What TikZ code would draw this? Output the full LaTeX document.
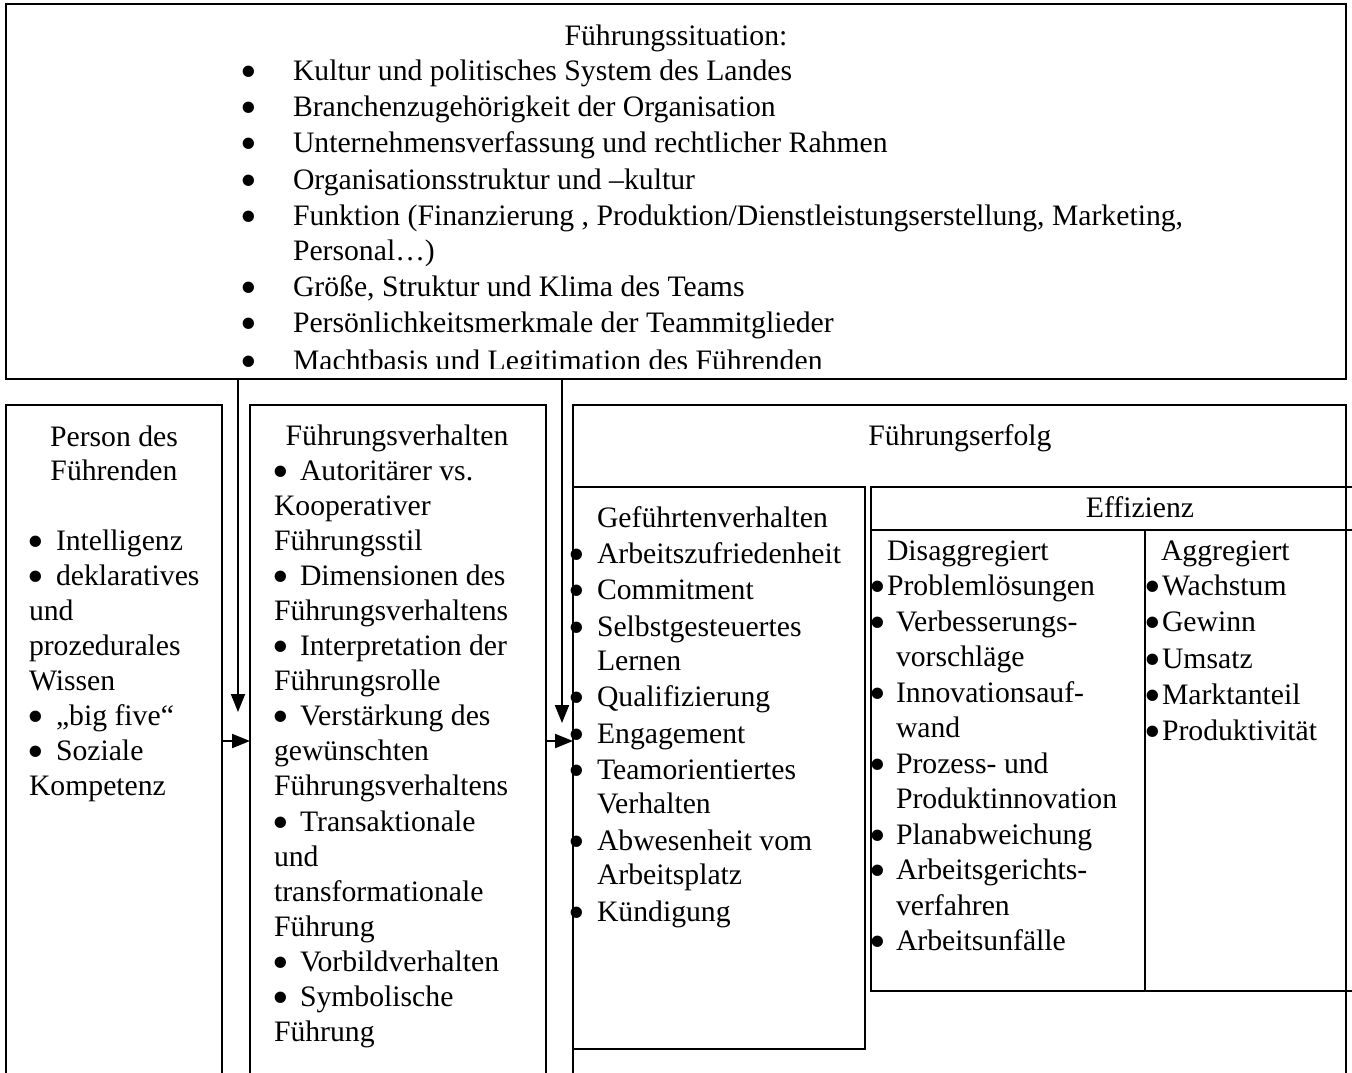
\documentclass[tikz,border=0pt]{standalone}
\usepackage{fontspec}
\usepackage{graphicx}
\setmainfont{Liberation Serif}
\usetikzlibrary{arrows.meta}
\newcommand{\bigb}{\smash{\raisebox{-7.3pt}{\scalebox{1.6}{\textbullet}}}}
\newcommand{\myb}[1]{\makebox[#1pt][l]{\hspace*{-2pt}\bigb}}
\newcommand{\myline}[4]{\node[txt] (#1) at (#2,#3) {#4};}
\begin{document}
\begin{tikzpicture}[x=1pt,y=-1pt,
  txt/.style={anchor=base west, inner sep=0pt, outer sep=0pt, font=\fontsize{29.7}{35}\selectfont},
  boxx/.style={draw=black, line width=2pt, inner sep=0pt, outer sep=0pt, fill=none},
  arr/.style={line width=2pt, -{Triangle[length=18pt,width=14pt]}},
  ln/.style={line width=2pt}]
\useasboundingbox (0,0) rectangle (1352,1072);
\fill[white] (0,0) rectangle (1352,1072);
\clip (0,0) rectangle (1352,1072);
% boxes
\node[boxx, minimum width=1340pt, minimum height=375pt] (sit) at (676,191.5) {};
\node[boxx, minimum width=216pt, minimum height=700pt] (pf) at (114,755) {};
\node[boxx, minimum width=296pt, minimum height=700pt] (fv) at (398,755) {};
\node[boxx, minimum width=773pt, minimum height=700pt] (fe) at (959.5,755) {};
\node[boxx, minimum width=292pt, minimum height=562pt] (gv) at (719,768) {};
\node[boxx, minimum width=494pt, minimum height=504pt] (eff) at (1118,739) {};
% Effizienz inner lines
\coordinate (ehl) at (871,530);
\coordinate (ehr) at (1365,530);
\coordinate (evt) at (1145,530);
\draw[ln] (ehl) -- (ehr);
\draw[ln] (evt) -- (evt |- eff.south);
% arrows
\coordinate (a1) at (238,712);
\coordinate (a2) at (562,723);
\coordinate (h1) at (0,741);
\draw[arr] (sit.south -| a1) -- (a1);
\draw[arr] (sit.south -| a2) -- (a2);
\draw[arr] (pf.east |- h1) -- (fv.west |- h1);
\draw[arr] (fv.east |- h1) -- (fe.west |- h1);
% top box text
\begin{scope}[yshift=-3pt]
\node[txt, anchor=base] (t0) at (676,42) {Führungssituation:};
\myline{t1}{242}{77}{\myb{51}Kultur und politisches System des Landes}
\myline{t2}{242}{113}{\myb{51}Branchenzugehörigkeit der Organisation}
\myline{t3}{242}{149}{\myb{51}Unternehmensverfassung und rechtlicher Rahmen}
\myline{t4}{242}{186}{\myb{51}Organisationsstruktur und –kultur}
\myline{t5}{242}{222}{\myb{51}Funktion (Finanzierung , Produktion/Dienstleistungserstellung, Marketing,}
\myline{t6}{293}{257}{Personal…)}
\myline{t7}{242}{293}{\myb{51}Größe, Struktur und Klima des Teams}
\myline{t8}{242}{329}{\myb{51}Persönlichkeitsmerkmale der Teammitglieder}
\begin{scope}
\clip (6,4) rectangle (1346,365);
\myline{t9}{242}{367}{\myb{51}Machtbasis und Legitimation des Führenden}
\end{scope}
\end{scope}
\begin{scope}[yshift=-2pt]
% Person des Fuehrenden
\node[txt, anchor=base] (p0) at (114,444) {Person des};
\node[txt, anchor=base] (p00) at (114,478) {Führenden};
\myline{p1}{29}{548}{\myb{27}Intelligenz}
\myline{p2}{29}{583}{\myb{27}deklaratives}
\myline{p3}{29}{618}{und}
\myline{p4}{29}{653}{prozedurales}
\myline{p5}{29}{688}{Wissen}
\myline{p6}{29}{723.5}{\myb{27}„big five“}
\myline{p7}{29}{758.5}{\myb{27}Soziale}
\myline{p8}{29}{793.5}{Kompetenz}
% Fuehrungsverhalten
\node[txt, anchor=base] (f0) at (397,443) {Führungsverhalten};
\myline{f1}{274}{478}{\myb{26}Autoritärer vs.}
\myline{f2}{274}{513}{Kooperativer}
\myline{f3}{274}{548}{Führungsstil}
\myline{f4}{274}{583}{\myb{26}Dimensionen des}
\myline{f5}{274}{618}{Führungsverhaltens}
\myline{f6}{274}{653.5}{\myb{26}Interpretation der}
\myline{f7}{274}{688.5}{Führungsrolle}
\myline{f8}{274}{723.5}{\myb{26}Verstärkung des}
\myline{f9}{274}{758.5}{gewünschten}
\myline{f10}{274}{793.5}{Führungsverhaltens}
\myline{f11}{274}{829}{\myb{26}Transaktionale}
\myline{f12}{274}{864}{und}
\myline{f13}{274}{899}{transformationale}
\myline{f14}{274}{934}{Führung}
\myline{f15}{274}{969}{\myb{26}Vorbildverhalten}
\myline{f16}{274}{1004}{\myb{26}Symbolische}
\myline{f17}{274}{1039}{Führung}
% Fuehrungserfolg
\node[txt, anchor=base] (e0) at (960,443) {Führungserfolg};
% Gefuehrtenverhalten
\myline{g0}{597}{525}{Geführtenverhalten}
\myline{g1}{597}{561}{Arbeitszufriedenheit}
\myline{g2}{597}{597}{Commitment}
\myline{g3}{597}{634}{Selbstgesteuertes}
\myline{g4}{597}{668}{Lernen}
\myline{g5}{597}{704}{Qualifizierung}
\myline{g6}{597}{741}{Engagement}
\myline{g7}{597}{777}{Teamorientiertes}
\myline{g8}{597}{811}{Verhalten}
\myline{g9}{597}{848}{Abwesenheit vom}
\myline{g10}{597}{882}{Arbeitsplatz}
\myline{g11}{597}{919}{Kündigung}
\foreach \yy/\nm in {561/gb1,597/gb2,634/gb3,704/gb5,741/gb6,777/gb7,848/gb9,919/gb11}
  \node[txt, anchor=base] (\nm) at (577,\yy) {\bigb};
% Effizienz
\node[txt, anchor=base] (z0) at (1140,515) {Effizienz};
\myline{d0}{887}{558}{Disaggregiert}
\myline{d1}{871}{593.5}{\myb{16}Problemlösungen}
\myline{d2}{871}{629}{\myb{25}Verbesserungs-}
\myline{d3}{896}{664.5}{vorschläge}
\myline{d4}{871}{700}{\myb{25}Innovationsauf-}
\myline{d5}{896}{735.5}{wand}
\myline{d6}{871}{771}{\myb{25}Prozess- und}
\myline{d7}{896}{806}{Produktinnovation}
\myline{d8}{871}{842}{\myb{25}Planabweichung}
\myline{d9}{871}{877.5}{\myb{25}Arbeitsgerichts-}
\myline{d10}{896}{913}{verfahren}
\myline{d11}{871}{948.5}{\myb{25}Arbeitsunfälle}
\myline{a0}{1161}{558}{Aggregiert}
\myline{a1t}{1146}{593.5}{\myb{16}Wachstum}
\myline{a2t}{1146}{629.5}{\myb{16}Gewinn}
\myline{a3t}{1146}{666}{\myb{16}Umsatz}
\myline{a4t}{1146}{702}{\myb{16}Marktanteil}
\myline{a5t}{1146}{738}{\myb{16}Produktivität}
\end{scope}
\end{tikzpicture}
\end{document}
